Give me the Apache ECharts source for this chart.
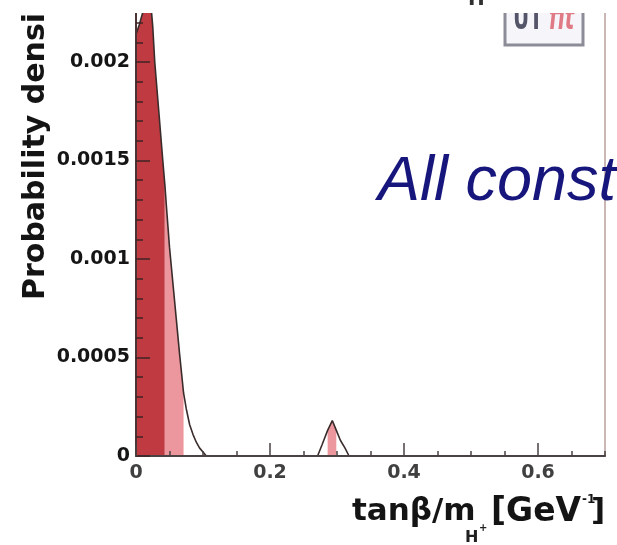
<!DOCTYPE html>
<html>
<head>
<meta charset="utf-8">
<script src="https://cdn.jsdelivr.net/npm/echarts@6/dist/echarts.min.js"></script>
<style>
  html, body { margin: 0; padding: 0; background: #ffffff; }
  #chart { width: 617px; height: 545px; }
</style>
</head>
<body>
<div id="chart"></div>
<script>
// Posterior probability density of tanβ/m_H+ (all constraints combined).

// Main peak near zero
const peakX = [0, 0.005, 0.010, 0.014, 0.018, 0.022, 0.025, 0.028, 0.034, 0.040, 0.043,
               0.046, 0.050, 0.055, 0.060, 0.065, 0.068, 0.071, 0.075, 0.080, 0.085,
               0.090, 0.095, 0.100, 0.105];
const peakY = [0.00214, 0.00219, 0.00225, 0.00236, 0.00238, 0.00230, 0.00218, 0.00200, 0.00175, 0.00150, 0.00138,
               0.00124, 0.00106, 0.00088, 0.00070, 0.00052, 0.00042, 0.00032, 0.00024, 0.00016, 0.00011,
               0.00007, 0.00004, 0.00002, 0];

// Secondary bump around 0.3
const bumpX = [0.271, 0.278, 0.286, 0.293, 0.299, 0.305, 0.312, 0.318];
const bumpY = [0, 0.00006, 0.00013, 0.00018, 0.00013, 0.00008, 0.00004, 0];

// Credible-interval edges (dark = inner, light = outer)
const innerHi = 0.043;
const outerHi = 0.071;
const bumpOuterLo = 0.286;
const bumpOuterHi = 0.299;

// Axis tick labels
const xTickValues = [0, 0.2, 0.4, 0.6];
const xTickText = ['0', '0.2', '0.4', '0.6'];
const yTickValues = [0, 0.0005, 0.001, 0.0015, 0.002];
const yTickText = ['0', '0.0005', '0.001', '0.0015', '0.002'];

const pairs = (xs, ys) => xs.map((x, i) => [x, ys[i]]);
const within = (pts, lo, hi) => pts.filter(p => p[0] >= lo - 1e-9 && p[0] <= hi + 1e-9);
const pick = (vals, texts, tol) => v => {
  const i = vals.findIndex(t => Math.abs(t - v) < tol);
  return i < 0 ? '' : texts[i];
};

const mainPts = pairs(peakX, peakY);
const bumpPts = pairs(bumpX, bumpY);

const FONT = 'DejaVu Sans';
const DARK = '#c03a41';
const LIGHT = '#ec979d';
const EDGE = '#3b2c2c';
const TICK = '#3f2424';

function fill(data, color) {
  return {
    type: 'line', data, symbol: 'none', silent: true, z: 2,
    lineStyle: { width: 0 },
    areaStyle: { color, opacity: 1 }
  };
}
function outline(data) {
  return {
    type: 'line', data, symbol: 'none', silent: true, z: 3,
    lineStyle: { color: EDGE, width: 1.6 }
  };
}

const chart = echarts.init(document.getElementById('chart'), null, { renderer: 'canvas' });

chart.setOption({
  animation: false,
  backgroundColor: '#ffffff',
  grid: {
    left: 136, right: 12, top: -36.5, bottom: 89,
    outerBoundsMode: 'none', containLabel: false,
    show: true, borderColor: '#cbb6b6', borderWidth: 2, backgroundColor: 'transparent'
  },
  xAxis: [
    {
      type: 'value', min: 0, max: 0.7, interval: 0.2, position: 'bottom', z: 10,
      axisLine: { onZero: false, lineStyle: { color: '#4a4242', width: 2 } },
      axisTick: { inside: true, length: 13, lineStyle: { color: '#4a4242', width: 1.5 } },
      axisLabel: {
        margin: 8, color: '#404040', fontFamily: FONT, fontWeight: 'bold', fontSize: 19,
        showMaxLabel: false, formatter: pick(xTickValues, xTickText, 1e-6)
      },
      splitLine: { show: false }
    },
    {
      type: 'value', min: 0, max: 0.7, interval: 0.05, position: 'bottom', z: 10,
      axisLine: { show: false },
      axisTick: { inside: true, length: 5, lineStyle: { color: '#4a4242', width: 1.5 } },
      axisLabel: { show: false },
      splitLine: { show: false }
    }
  ],
  yAxis: {
    type: 'value', min: 0, max: 0.0025, interval: 0.0005, z: 10,
    axisLine: { show: true, lineStyle: { color: '#4a3434', width: 2 } },
    axisTick: { inside: true, length: 14, lineStyle: { color: TICK, width: 1.5 } },
    minorTick: { show: true, splitNumber: 5, length: 7, lineStyle: { color: TICK, width: 1.5 } },
    axisLabel: {
      margin: 6, color: '#151515', fontFamily: FONT, fontWeight: 'bold', fontSize: 19,
      formatter: pick(yTickValues, yTickText, 1e-9)
    },
    splitLine: { show: false }
  },
  series: [
    fill(within(mainPts, 0, innerHi), DARK),
    fill(within(mainPts, innerHi, outerHi), LIGHT),
    fill(within(bumpPts, bumpOuterLo, bumpOuterHi), LIGHT),
    outline(mainPts),
    outline(bumpPts)
  ],
  graphic: [
    {
      type: 'text', x: 378, y: 182, z: 1,
      style: {
        text: 'All constraints', fontFamily: 'Liberation Sans', fontStyle: 'italic', fontSize: 63,
        fill: '#16167c', verticalAlign: 'middle', textVerticalAlign: 'middle'
      }
    },
    {
      type: 'text', x: 36, y: 300, rotation: Math.PI / 2, z: 20,
      style: {
        text: 'Probability density', fontFamily: FONT, fontWeight: 'bold', fontSize: 30,
        fill: '#141414', align: 'left', textAlign: 'left', verticalAlign: 'middle', textVerticalAlign: 'middle'
      }
    },
    {
      type: 'text', x: 352, y: 512, z: 20,
      style: { text: 'tanβ/m', fontFamily: FONT, fontWeight: 'bold', fontSize: 31, fill: '#141414',
               verticalAlign: 'middle', textVerticalAlign: 'middle' }
    },
    {
      type: 'text', x: 465, y: 538, z: 20,
      style: { text: 'H', fontFamily: FONT, fontWeight: 'bold', fontSize: 16, fill: '#202020',
               verticalAlign: 'middle', textVerticalAlign: 'middle' }
    },
    {
      type: 'text', x: 479, y: 528, z: 20,
      style: { text: '+', fontFamily: FONT, fontWeight: 'bold', fontSize: 10, fill: '#202020',
               verticalAlign: 'middle', textVerticalAlign: 'middle' }
    },
    {
      type: 'text', x: 491, y: 512, z: 20,
      style: { text: '[GeV', fontFamily: FONT, fontWeight: 'bold', fontSize: 33, fill: '#141414',
               verticalAlign: 'middle', textVerticalAlign: 'middle' }
    },
    {
      type: 'text', x: 582, y: 500, z: 20,
      style: { text: '-1', fontFamily: FONT, fontWeight: 'bold', fontSize: 12, fill: '#141414',
               verticalAlign: 'middle', textVerticalAlign: 'middle' }
    },
    {
      type: 'text', x: 591, y: 512, z: 20,
      style: { text: ']', fontFamily: FONT, fontWeight: 'bold', fontSize: 31, fill: '#141414',
               verticalAlign: 'middle', textVerticalAlign: 'middle' }
    },
    // UTfit badge
    {
      type: 'rect', z: 50,
      shape: { x: 505, y: -12, width: 78, height: 57 },
      style: { fill: '#f6f6fa', stroke: '#8c8c98', lineWidth: 3 }
    },
    {
      type: 'text', x: 513, y: 20.5, scaleY: 1.7, z: 51,
      style: { text: 'UT', fontFamily: FONT, fontWeight: 'bold', fontSize: 20, fill: '#55556a',
               verticalAlign: 'middle', textVerticalAlign: 'middle' }
    },
    {
      type: 'text', x: 549, y: 20.5, scaleY: 1.7, z: 51,
      style: { text: 'fit', fontFamily: FONT, fontWeight: 'bold', fontStyle: 'italic', fontSize: 20, fill: '#e07a84',
               verticalAlign: 'middle', textVerticalAlign: 'middle' }
    },
    // top margin band
    {
      type: 'rect', z: 100,
      shape: { x: 0, y: 0, width: 617, height: 13 },
      style: { fill: '#ffffff' }
    },
    {
      type: 'text', x: 468, y: 0, z: 101,
      style: { text: 'H', fontFamily: FONT, fontWeight: 'bold', fontSize: 20, fill: '#303030',
               verticalAlign: 'middle', textVerticalAlign: 'middle' }
    }
  ]
});
</script>
</body>
</html>
